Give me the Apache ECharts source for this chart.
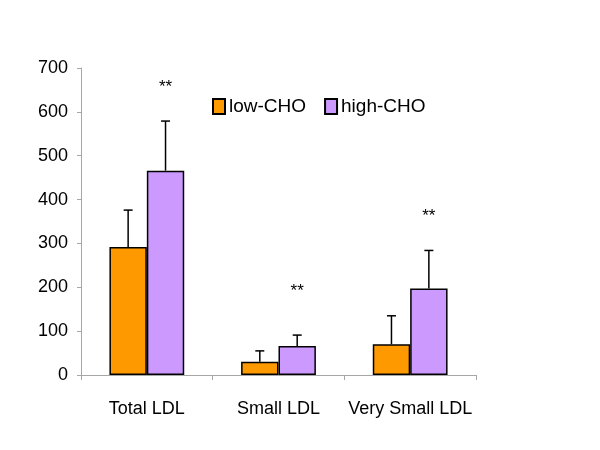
<!DOCTYPE html>
<html><head><meta charset="utf-8">
<script src="https://cdn.jsdelivr.net/npm/echarts@6/dist/echarts.min.js"></script>
<style>html,body{margin:0;padding:0;background:#fff}#c{width:600px;height:450px}</style>
</head><body><div id="c"></div>
<script>
const categories = ['Total LDL', 'Small LDL', 'Very Small LDL'];
const lowCHO = [292, 30, 70];
const highCHO = [466, 66, 197];
const lowErr = [84, 25, 65];
const highErr = [113, 25, 87];
const sigLabels = ['**', '**', '**'];
const sigY = [657, 191, 362];
const yTicks = [0, 100, 200, 300, 400, 500, 600, 700];

const BW = 0.284;
const font = 'Liberation Sans, Arial, sans-serif';

function errSeries(vals, errs, side) {
  return {
    type: 'custom',
    z: 1,
    silent: true,
    data: vals.map((v, i) => [i, v, v + errs[i]]),
    renderItem: function (params, api) {
      const i = api.value(0);
      const w = api.size([1, 0])[0];
      const p0 = api.coord([i, api.value(1)]);
      const p1 = api.coord([i, api.value(2)]);
      const x = p0[0] + side * w * BW / 2;
      const cap = 4.5;
      const st = { stroke: '#000', lineWidth: 1.5 };
      return {
        type: 'group',
        children: [
          { type: 'line', shape: { x1: x, y1: p0[1], x2: x, y2: p1[1] }, style: st },
          { type: 'line', shape: { x1: x - cap, y1: p1[1], x2: x + cap, y2: p1[1] }, style: st }
        ]
      };
    }
  };
}

const chart = echarts.init(document.getElementById('c'));
chart.setOption({
  animation: false,
  backgroundColor: '#fff',
  grid: { left: 81, right: 124, top: 68, bottom: 75 },
  legend: {
    data: ['low-CHO', 'high-CHO'],
    left: 207, top: 92,
    itemWidth: 12, itemHeight: 15, itemGap: 18,
    icon: 'rect',
    textStyle: { fontFamily: font, fontSize: 19, color: '#000', padding: [0, 0, 0, -1] }
  },
  xAxis: {
    type: 'category',
    data: categories,
    axisLine: { lineStyle: { color: '#a6a6a6', width: 1 } },
    axisTick: { show: true, length: 5, lineStyle: { color: '#a6a6a6' } },
    axisLabel: { fontFamily: font, fontSize: 18, color: '#000', margin: 25, interval: 0 }
  },
  yAxis: {
    type: 'value',
    min: 0, max: 700, interval: 100,
    axisLine: { show: true, lineStyle: { color: '#a6a6a6', width: 1 } },
    axisTick: { show: true, length: 4, lineStyle: { color: '#a6a6a6' } },
    splitLine: { show: false },
    axisLabel: { fontFamily: font, fontSize: 18, color: '#000', margin: 13,
      formatter: v => yTicks.indexOf(v) >= 0 ? String(v) : '' }
  },
  series: [
    errSeries(lowCHO, lowErr, -1),
    errSeries(highCHO, highErr, 1),
    {
      name: 'low-CHO', type: 'bar', data: lowCHO, z: 2,
      barWidth: (BW * 100) + '%', barGap: '0%',
      itemStyle: { color: '#FF9900', borderColor: '#000', borderWidth: 1.5 }
    },
    {
      name: 'high-CHO', type: 'bar', data: highCHO, z: 2,
      barWidth: (BW * 100) + '%', barGap: '0%',
      itemStyle: { color: '#CC99FF', borderColor: '#000', borderWidth: 1.5 }
    },
    {
      type: 'custom', silent: true, z: 3,
      data: sigY.map((v, i) => [i, v]),
      renderItem: function (params, api) {
        const i = api.value(0);
        const w = api.size([1, 0])[0];
        const p = api.coord([i, api.value(1)]);
        return { type: 'text', style: { text: sigLabels[i], x: p[0] + w * BW / 2, y: p[1],
          align: 'center', verticalAlign: 'middle', font: '17px ' + font, fill: '#000' } };
      }
    }
  ]
});
</script></body></html>
